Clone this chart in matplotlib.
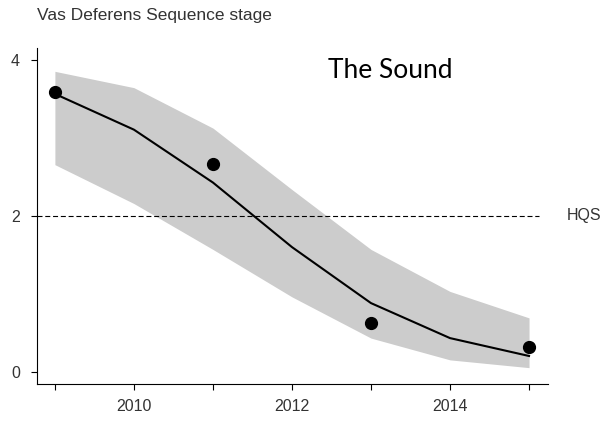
# -*- coding: utf-8 -*-

import numpy as np
import matplotlib
matplotlib.use('Agg')
import matplotlib.pyplot as plt

# observed stage per survey year
obs_years = [2009, 2011, 2013, 2015]
obs_stage = [3.60, 2.67, 0.63, 0.32]

# fitted trend with its confidence band
fit_years = [2009, 2010, 2011, 2012, 2013, 2014, 2015]
fit_stage = [3.57, 3.11, 2.43, 1.60, 0.88, 0.43, 0.20]
fit_upper = [3.86, 3.65, 3.13, 2.34, 1.57, 1.03, 0.69]
fit_lower = [2.66, 2.16, 1.57, 0.96, 0.43, 0.15, 0.05]

hqs_level = 2
xtick_years = [2009, 2010, 2011, 2012, 2013, 2014, 2015]
xtick_labels = ['', '2010', '', '2012', '', '2014', '']
ytick_values = [0, 2, 4]

plt.rcParams['font.family'] = ['Liberation Sans', 'DejaVu Sans']

fig = plt.figure(figsize=(6.03, 4.21), dpi=100)
ax = fig.add_axes([0.0609, 0.0879, 0.8479, 0.7981])

ax.fill_between(fit_years, fit_lower, fit_upper, color='#cccccc',
                linewidth=0, zorder=1)
ax.plot(fit_years, fit_stage, color='black', linewidth=1.5, zorder=3)
ax.plot(obs_years, obs_stage, 'o', color='black', markersize=8.5, zorder=4)

# health quality standard
ax.plot([2008.77, 2015.12], [hqs_level, hqs_level], color='black',
        linewidth=0.8, dashes=(4.5, 2.5), zorder=2)
ax.text(2015.48, hqs_level, 'HQS', fontsize=11.5, color='#333333',
        va='center', ha='left', clip_on=False)

ax.text(2013.25, 3.87, 'The Sound', fontsize=19, family=['Lato'],
        color='black', ha='center', va='center')

ax.set_xlim(2008.77, 2015.24)
ax.set_ylim(-0.16, 4.16)
ax.set_xticks(xtick_years)
ax.set_xticklabels(xtick_labels)
ax.set_yticks(ytick_values)

for side in ['top', 'right']:
    ax.spines[side].set_visible(False)
for side in ['left', 'bottom']:
    ax.spines[side].set_linewidth(0.8)

ax.tick_params(axis='both', length=4, width=0.8, labelsize=11.5,
               labelcolor='#333333')
ax.tick_params(axis='x', pad=7)
ax.tick_params(axis='y', pad=8)

fig.text(0.0609, 0.962, 'Vas Deferens Sequence stage', fontsize=12.5,
         color='#333333', ha='left', va='center')

fig.savefig('out.png', dpi=100)
